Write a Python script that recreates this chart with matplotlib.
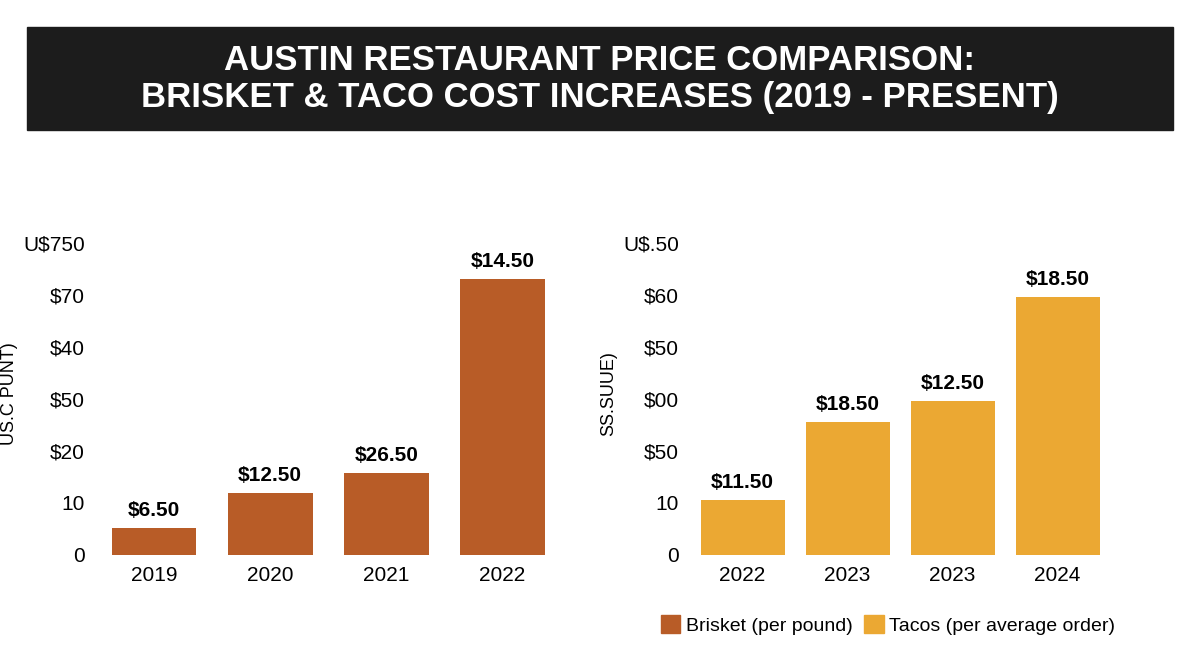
import matplotlib
matplotlib.use("Agg")
import matplotlib.pyplot as plt
from matplotlib.patches import Patch, Rectangle

plt.rcParams['font.family'] = ['Liberation Sans Narrow', 'Liberation Sans', 'DejaVu Sans']

# Data (heights in tick-step units as drawn in the reference)
brisket_years = ["2019", "2020", "2021", "2022"]
brisket_heights = [0.52, 1.19, 1.58, 5.31]
brisket_labels = ["$6.50", "$12.50", "$26.50", "$14.50"]
brisket_ticks = ["0", "10", "$20", "$50", "$40", "$70", "U$750"]

taco_years = ["2022", "2023", "2023", "2024"]
taco_heights = [1.06, 2.56, 2.96, 4.96]
taco_labels = ["$11.50", "$18.50", "$12.50", "$18.50"]
taco_ticks = ["0", "10", "$50", "$00", "$50", "$60", "U$.50"]

brisket_color = "#B85C27"
taco_color = "#EBA833"

fig = plt.figure(figsize=(12, 6.55), dpi=100)

# Title banner
fig.patches.append(Rectangle((0.0225, 1 - 130/655), 0.955, 103/655,
                             transform=fig.transFigure, color="#1c1c1c", zorder=0))
fig.text(0.5, 1 - 79/655, "AUSTIN RESTAURANT PRICE COMPARISON:\nBRISKET & TACO COST INCREASES (2019 - PRESENT)",
         ha="center", va="center", color="white", fontsize=25, fontweight="bold", linespacing=1.15)


def panel(rect, years, heights, labels, ticks, color, ylabel, width):
    ax = fig.add_axes(rect)
    x = range(len(years))
    ax.bar(x, heights, width=width, color=color)
    for xi, h, lab in zip(x, heights, labels):
        ax.text(xi, h + 0.15, lab, ha="center", va="bottom", fontsize=15, fontweight="bold")
    ax.set_xticks(list(x))
    ax.set_xticklabels(years, fontsize=15)
    ax.set_yticks(range(len(ticks)))
    ax.set_yticklabels(ticks, fontsize=15)
    ax.set_ylim(0, 6.2)
    ax.set_xlim(-0.5, len(years) - 0.5)
    ax.tick_params(length=0, pad=8)
    for s in ax.spines.values():
        s.set_visible(False)
    ax.set_ylabel(ylabel, fontsize=13)
    return ax


panel([0.08, 0.153, 0.387, 0.492], brisket_years, brisket_heights, brisket_labels,
      brisket_ticks, brisket_color, "US.C PUNT)", 0.73)
panel([0.575, 0.153, 0.35, 0.492], taco_years, taco_heights, taco_labels,
      taco_ticks, taco_color, "SS.SUUE)", 0.8)

handles = [Patch(color=brisket_color, label="Brisket (per pound)"),
           Patch(color=taco_color, label="Tacos (per average order)")]
fig.legend(handles=handles, loc="center", bbox_to_anchor=(0.74, 1 - 625/655), ncol=2,
           frameon=False, fontsize=14, handlelength=1.0, handleheight=1.0,
           handletextpad=0.3, columnspacing=0.6)

fig.savefig("out.png", dpi=100, facecolor="white")
